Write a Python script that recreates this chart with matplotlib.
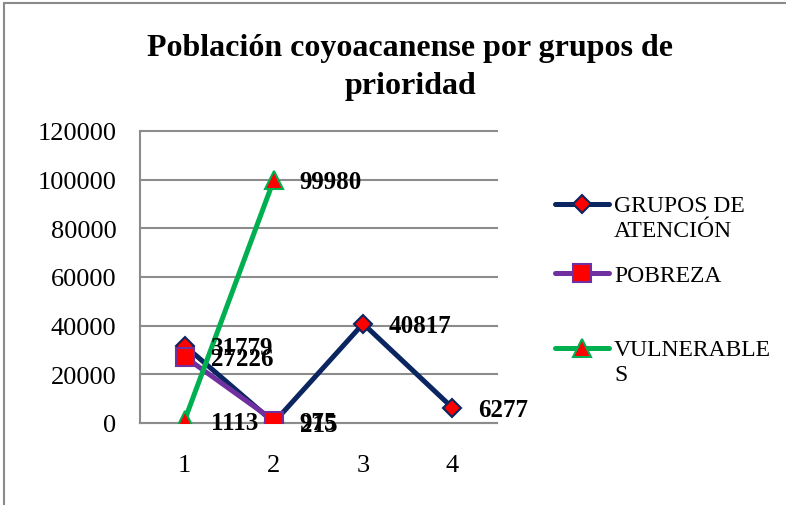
import matplotlib
matplotlib.use('Agg')
import matplotlib.pyplot as plt
from matplotlib.patches import Rectangle
from matplotlib.legend_handler import HandlerLine2D

categories = [1, 2, 3, 4]
grupos = [31779, 215, 40817, 6277]
pobreza = [27226, 975]
vulnerables = [1113, 99980]
yticks = [0, 20000, 40000, 60000, 80000, 100000, 120000]
title = "Población coyoacanense por grupos de\nprioridad"
series_names = ["GRUPOS DE\nATENCIÓN", "POBREZA", "VULNERABLE\nS"]

navy = '#0B2560'
purple = '#7030A0'
green = '#00B050'
red = '#FF0000'
gray = '#8C8C8C'
serif = ['Liberation Serif', 'DejaVu Serif']


class FirstLineHandler(HandlerLine2D):
    """Draw the legend handle level with the first line of a two-line label."""
    def __init__(self, shift_pt, **kw):
        super().__init__(**kw)
        self.shift_pt = shift_pt

    def create_artists(self, legend, orig_handle, xdescent, ydescent, width,
                       height, fontsize, trans):
        return super().create_artists(legend, orig_handle, xdescent,
                                      ydescent - 2 * self.shift_pt, width,
                                      height, fontsize, trans)


fig = plt.figure(figsize=(7.86, 5.06), dpi=100)
ax = fig.add_axes([140/786, 82/506, 357/786, 292/506])

l1, = ax.plot(categories, grupos, color=navy, lw=3.6, marker='D', ms=9.5,
              mfc=red, mec=navy, mew=1.5, solid_capstyle='round', zorder=3)
l2, = ax.plot(categories[:len(pobreza)], pobreza, color=purple, lw=3.6, marker='s', ms=12.5,
              mfc=red, mec=purple, mew=1.5, solid_capstyle='round', zorder=4)
l3, = ax.plot(categories[:len(vulnerables)], vulnerables, color=green, lw=3.6, marker='^', ms=12.5,
              mfc=red, mec=green, mew=1.5, solid_capstyle='round', zorder=5)

for xs, ys in [(categories, grupos), (categories, pobreza), (categories, vulnerables)]:
    for x, y in zip(xs, ys):
        ax.annotate(str(y), (x, y), xytext=(26, -2), textcoords='offset pixels',
                    ha='left', va='center', fontsize=18, fontweight='bold',
                    family=serif, color='black', zorder=6, annotation_clip=False)

ax.set_xlim(0.5, 4.5)
ax.set_ylim(0, 120000)
ax.set_xticks(categories)
ax.set_xticklabels([str(c) for c in categories])
ax.set_yticks(yticks)
ax.set_yticklabels([str(v) for v in yticks])
for lab in ax.get_xticklabels() + ax.get_yticklabels():
    lab.set_family(serif)
    lab.set_fontsize(19)
ax.tick_params(axis='x', length=0, pad=22)
ax.tick_params(axis='y', length=0, pad=17)
ax.grid(axis='y', color=gray, lw=1.5, zorder=0)
for gl in ax.get_ygridlines():
    gl.set_clip_on(False)
ax.set_axisbelow(True)
for s in ['top', 'right']:
    ax.spines[s].set_visible(False)
for s in ['left', 'bottom']:
    ax.spines[s].set_color(gray)
    ax.spines[s].set_linewidth(1.5)

fig.text(410/786, 1 - 34/506, title, ha='center', va='top', fontsize=23,
         fontweight='bold', family=serif, linespacing=1.4)

# legend entries (centre of each entry block, in figure pixels from top)
centers = [219, 276, 363]
for h, name, cy in zip([l1, l2, l3], series_names, centers):
    nlines = name.count('\n') + 1
    shift = (nlines - 1) * 27 / 2 * 72 / 100  # half a line, in points
    leg = fig.legend([h], [name], loc='center left',
                     bbox_to_anchor=(555/786, 1 - cy/506),
                     frameon=False, borderpad=0, borderaxespad=0,
                     handlelength=2.3, handletextpad=0.2,
                     handler_map={h: FirstLineHandler(shift)},
                     prop={'family': serif, 'size': 17})
    for t in leg.get_texts():
        t.set_linespacing(1.25)

fig.patches.append(Rectangle((4/786, -0.5), 2, 1.5 - 4/506, transform=fig.transFigure,
                             fill=False, edgecolor='#8A8A8A', lw=1.5))

fig.savefig('out.png', dpi=100)
